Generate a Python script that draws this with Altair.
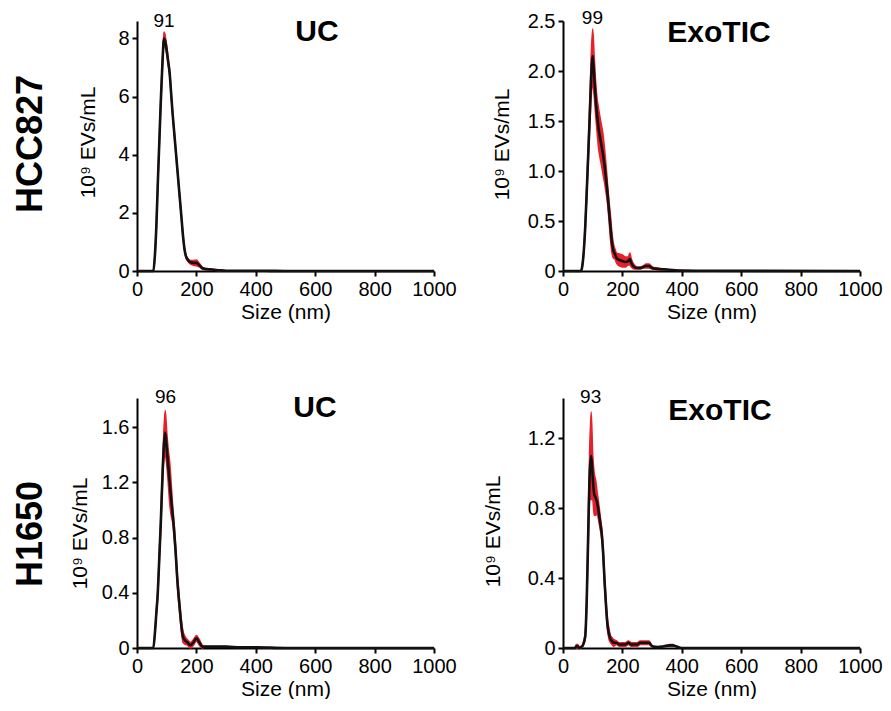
import altair as alt
import pandas as pd

FONT = "Liberation Sans"
RED = "#e8202a"

# ---------------- data ----------------
# HCC827 / UC
size1 = [0, 50, 55, 60, 65, 70, 75, 80, 85, 91, 95, 100, 105, 110, 115, 120, 125, 130, 135, 140,
         145, 150, 155, 160, 165, 170, 180, 190, 200, 210, 220, 230, 240, 250, 260, 280, 300, 350,
         400, 450, 500, 1000]
mean1 = [0, 0, 0.02, 0.5, 1.5, 3.0, 4.4, 5.8, 7.0, 8.0, 7.9, 7.6, 7.2, 6.8, 6.1, 5.4, 4.8, 4.2, 3.6, 3.0,
         2.4, 1.8, 1.2, 0.75, 0.5, 0.4, 0.3, 0.28, 0.28, 0.2, 0.1, 0.07, 0.06, 0.05, 0.04, 0.02, 0.01, 0.01,
         0.01, 0.005, 0, 0]
sd1 = [0, 0, 0.01, 0.05, 0.08, 0.1, 0.12, 0.14, 0.16, 0.22, 0.2, 0.15, 0.1, 0.08, 0.06, 0.05, 0.05, 0.05, 0.05, 0.05,
       0.05, 0.04, 0.04, 0.04, 0.04, 0.05, 0.06, 0.08, 0.1, 0.06, 0.03, 0.02, 0.02, 0.02, 0.01, 0.01, 0, 0,
       0, 0, 0, 0]

# HCC827 / ExoTIC
size2 = [0, 60, 65, 70, 75, 80, 85, 90, 95, 100, 105, 110, 115, 120, 125, 130, 135, 140, 145, 150,
         155, 160, 165, 170, 175, 180, 190, 200, 210, 220, 225, 230, 240, 250, 260, 270, 280, 290, 300, 320,
         350, 400, 500, 1000]
mean2 = [0, 0, 0.05, 0.2, 0.45, 0.8, 1.17, 1.55, 1.95, 2.15, 1.95, 1.72, 1.55, 1.42, 1.33, 1.25, 1.16, 1.05, 0.92, 0.77,
         0.6, 0.43, 0.28, 0.2, 0.17, 0.13, 0.11, 0.1, 0.09, 0.1, 0.12, 0.08, 0.04, 0.03, 0.03, 0.04, 0.05, 0.05, 0.03, 0.02,
         0.015, 0.005, 0.002, 0]
sd2 = [0, 0, 0.01, 0.02, 0.04, 0.06, 0.08, 0.12, 0.2, 0.27, 0.2, 0.17, 0.17, 0.2, 0.2, 0.2, 0.2, 0.17, 0.14, 0.1,
       0.1, 0.12, 0.1, 0.07, 0.05, 0.05, 0.06, 0.06, 0.05, 0.04, 0.06, 0.04, 0.02, 0.01, 0.01, 0.01, 0.02, 0.02, 0.01, 0.01,
       0, 0, 0, 0]

# H1650 / UC
size3 = [0, 50, 55, 60, 65, 70, 75, 80, 85, 90, 95, 100, 105, 110, 115, 120, 125, 130, 135, 140,
         145, 150, 155, 160, 170, 180, 190, 200, 210, 220, 230, 250, 300, 350, 400, 500, 1000]
mean3 = [0, 0, 0, 0.1, 0.25, 0.4, 0.65, 0.9, 1.2, 1.45, 1.56, 1.45, 1.32, 1.2, 1.08, 0.97, 0.85, 0.7, 0.52, 0.38,
         0.26, 0.15, 0.08, 0.06, 0.04, 0.02, 0.04, 0.07, 0.04, 0.01, 0.01, 0.01, 0.01, 0.005, 0.005, 0, 0]
sd3 = [0, 0, 0, 0.01, 0.02, 0.03, 0.04, 0.05, 0.06, 0.1, 0.16, 0.12, 0.12, 0.15, 0.12, 0.06, 0.05, 0.04, 0.04, 0.04,
       0.04, 0.04, 0.04, 0.03, 0.02, 0.02, 0.02, 0.02, 0.02, 0.01, 0, 0, 0, 0, 0, 0, 0]

# H1650 / ExoTIC
size4 = [0, 40, 45, 50, 55, 60, 65, 70, 75, 80, 85, 90, 95, 100, 105, 110, 115, 120, 125, 130,
         135, 140, 145, 150, 155, 160, 165, 170, 180, 190, 200, 210, 220, 230, 240, 250, 260, 270, 280, 290,
         300, 320, 340, 360, 370, 380, 400, 500, 1000]
mean4 = [0, 0, 0.01, 0.01, 0, 0.005, 0.01, 0.03, 0.07, 0.28, 0.66, 1.0, 1.1, 0.98, 0.88, 0.86, 0.83, 0.78, 0.72, 0.66,
         0.55, 0.38, 0.24, 0.13, 0.08, 0.05, 0.04, 0.03, 0.03, 0.02, 0.02, 0.02, 0.03, 0.02, 0.02, 0.02, 0.03, 0.03, 0.03, 0.03,
         0.01, 0.005, 0.01, 0.015, 0.015, 0.01, 0, 0, 0]
sd4 = [0, 0, 0.01, 0.01, 0, 0.005, 0.005, 0.01, 0.02, 0.04, 0.08, 0.15, 0.25, 0.13, 0.12, 0.1, 0.06, 0.05, 0.04, 0.03,
       0.03, 0.03, 0.03, 0.03, 0.03, 0.02, 0.02, 0.02, 0.01, 0.01, 0.01, 0.01, 0.01, 0.01, 0.01, 0.01, 0.01, 0.01, 0.01, 0.01,
       0, 0, 0, 0.005, 0.005, 0, 0, 0, 0]

cell_lines = ["HCC827", "HCC827", "H1650", "H1650"]
methods = ["UC", "ExoTIC", "UC", "ExoTIC"]
peak_sizes = [91, 99, 96, 93]
y_max = [8.6, 2.5, 1.81, 1.43]
y_ticks = [[0, 2, 4, 6, 8], [0, 0.5, 1.0, 1.5, 2.0, 2.5], [0, 0.4, 0.8, 1.2, 1.6], [0, 0.4, 0.8, 1.2]]
x_ticks = [0, 200, 400, 600, 800, 1000]

series = [(size1, mean1, sd1), (size2, mean2, sd2), (size3, mean3, sd3), (size4, mean4, sd4)]

# layout-only settings per panel
layout = [
    dict(dec=False, mx=180, my=11, py=0, row_y=123, tx=-49, ty=121),
    dict(dec=True, mx=156, my=12, py=-3.5, row_y=None, tx=-61, ty=123),
    dict(dec=True, mx=178, my=10, py=-1.5, row_y=136, tx=-57, ty=135),
    dict(dec=True, mx=157, my=13, py=-1, row_y=None, tx=-70, ty=133),
]

W, H = 297, 250


def make_panel(i):
    size, mean, sd = series[i]
    lo = [max(m - s, 0) for m, s in zip(mean, sd)]
    hi = [m + s for m, s in zip(mean, sd)]
    df = pd.DataFrame({"size": size, "mean": mean, "lo": lo, "hi": hi})
    L = layout[i]

    xs = alt.Scale(domain=[0, 1000], nice=False, zero=True)
    ys = alt.Scale(domain=[0, y_max[i]], nice=False, zero=True)
    xaxis = alt.Axis(values=x_ticks, title="Size (nm)", titlePadding=2, format="d",
                     labelOverlap=False, labelFlush=False)
    yaxis_kw = dict(values=y_ticks[i], title="10⁹ EVs/mL", titleX=L["tx"], titleY=L["ty"],
                    titleAngle=270, titleBaseline="middle", titleAlign="center",
                    labelOverlap=False, labelFlush=False)
    if L["dec"]:
        yaxis_kw["labelExpr"] = "datum.value == 0 ? '0' : format(datum.value, '.1f')"
    else:
        yaxis_kw["format"] = "d"
    yaxis = alt.Axis(**yaxis_kw)

    base = alt.Chart(df)
    band = base.mark_area(color=RED, interpolate="monotone", stroke=RED, strokeWidth=1.5).encode(
        x=alt.X("size:Q", scale=xs, axis=xaxis),
        y=alt.Y("lo:Q", scale=ys, axis=yaxis),
        y2="hi:Q",
    )
    line = base.mark_line(color="#111111", strokeWidth=2.6, interpolate="monotone").encode(
        x=alt.X("size:Q", scale=xs, axis=xaxis),
        y=alt.Y("mean:Q", scale=ys, axis=yaxis),
    )
    title = alt.Chart(pd.DataFrame({"t": [methods[i]]})).mark_text(
        font=FONT, fontSize=30, fontWeight="bold", color="black", baseline="middle", align="center"
    ).encode(x=alt.value(L["mx"]), y=alt.value(L["my"]), text="t:N")
    peak = alt.Chart(pd.DataFrame({"size": [peak_sizes[i]], "t": [str(peak_sizes[i])]})).mark_text(
        font=FONT, fontSize=19, color="black", baseline="middle", align="center"
    ).encode(x=alt.X("size:Q"), y=alt.value(L["py"]), text="t:N")
    layers = [band, line, title, peak]
    if L["row_y"] is not None:
        row = alt.Chart(pd.DataFrame({"t": [cell_lines[i]]})).mark_text(
            font=FONT, fontSize=36, fontWeight="bold", color="black", angle=270,
            baseline="middle", align="center"
        ).encode(x=alt.value(-106), y=alt.value(L["row_y"]), text="t:N")
        layers.append(row)
    return alt.layer(*layers).properties(width=W, height=H)


panels = [make_panel(i) for i in range(4)]

chart = alt.concat(
    *panels, columns=2, spacing={"row": 127, "column": 129}, bounds="flush"
).properties(
    padding={"left": 5, "top": 0, "right": 0, "bottom": 0}
).configure_view(stroke=None).configure_axis(
    grid=False,
    domainColor="black", domainWidth=2,
    tickColor="black", tickWidth=2, tickSize=5,
    labelFont=FONT, labelFontSize=20, labelColor="black", labelPadding=3,
    titleFont=FONT, titleFontSize=21, titleFontWeight="normal", titleColor="black",
)

chart.save("out.html", embed_options={"renderer": "svg", "actions": False})
